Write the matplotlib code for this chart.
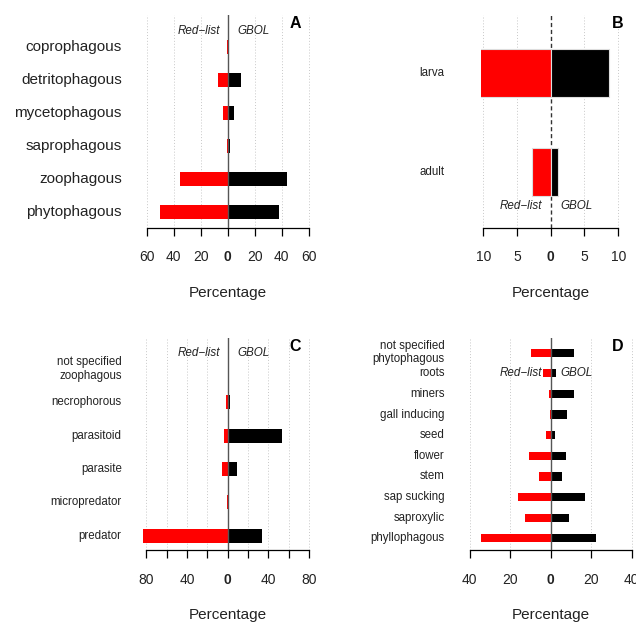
import matplotlib
matplotlib.use("Agg")
import matplotlib.pyplot as plt
import matplotlib.transforms as mtransforms

plt.rcParams['font.family'] = ['Liberation Sans', 'DejaVu Sans']

# ---------------- data ----------------
# Panel A: feeding guild (bottom -> top)
a_cats = ["phytophagous", "zoophagous", "saprophagous", "mycetophagous",
          "detritophagous", "coprophagous"]
a_red = [50, 35.3, 0.3, 3.7, 7.0, 0.3]
a_gbol = [38.2, 43.7, 1.5, 4.4, 10.0, 0.0]
a_ticks = [-60, -40, -20, 0, 20, 40, 60]
a_ticklabels = ["60", "40", "20", "0", "20", "40", "60"]

# Panel B: life stage
b_cats = ["adult", "larva"]
b_red = [2.7, 10.8]
b_gbol = [1.1, 8.6]
b_ticks = [-10, -5, 0, 5, 10]
b_ticklabels = ["10", "5", "0", "5", "10"]

# Panel C: zoophagous
c_cats = ["predator", "micropredator", "parasite", "parasitoid",
          "necrophorous", "not specified\nzoophagous"]
c_red = [83.6, 0.8, 5.6, 3.3, 1.7, 0.0]
c_gbol = [34.1, 0.0, 8.9, 53.0, 2.3, 0.0]
c_ticks = [-80, -60, -40, -20, 0, 20, 40, 60, 80]
c_ticklabels = ["80", "", "40", "", "0", "", "40", "", "80"]

# Panel D: phytophagous
d_cats = ["phyllophagous", "saproxylic", "sap sucking", "stem", "flower",
          "seed", "gall inducing", "miners", "roots",
          "not specified\nphytophagous"]
d_red = [34.6, 12.8, 16.1, 5.6, 10.9, 2.1, 0.4, 0.8, 4.0, 9.5]
d_gbol = [22.2, 9.2, 16.8, 5.6, 7.6, 2.0, 7.9, 11.7, 2.5, 11.4]
d_ticks = [-40, -20, 0, 20, 40]
d_ticklabels = ["40", "20", "0", "20", "40"]

# ---------------- layout ----------------
W, H = 636, 623
fig = plt.figure(figsize=(W / 100, H / 100), dpi=100)


def px_axes(zero, ppu, xmax, top, bottom):
    left = zero - xmax * ppu
    width = 2 * xmax * ppu
    ax = fig.add_axes([left / W, 1 - bottom / H, width / W, (bottom - top) / H])
    ax.set_xlim(-xmax, xmax)
    return ax


def panel(ax, cats, red, gbol, ticks, ticklabels, ylim, barh, lab_x, lab_fs,
          letter, letter_xy, rl_y, rl_right, gb_left, zero_style, bar_edge,
          axis_y, zero_top):
    ax.set_ylim(*ylim)
    ypos = list(range(len(cats)))
    # grid
    for t in ticks:
        if t != 0:
            ax.axvline(t, color="#c8c8c8", lw=0.7, ls=(0, (1, 2)), zorder=0)
    if zero_style == "dashed":
        ax.axvline(0, color="#333333", lw=1.0, ls=(0, (3, 2)), zorder=1)
        zl_z = 1
    ec = "#dddddd" if bar_edge else "none"
    lw = 0.8 if bar_edge else 0
    ax.barh(ypos, [-v for v in red], height=barh, color="#ff0000",
            edgecolor=ec, linewidth=lw, zorder=2)
    ax.barh(ypos, gbol, height=barh, color="black",
            edgecolor=ec, linewidth=lw, zorder=2)
    if zero_style == "solid":
        ax.axvline(0, color="#555555", lw=1.0, zorder=3)
    # spines / ticks
    for s in ["top", "right", "left"]:
        ax.spines[s].set_visible(False)
    ax.spines["bottom"].set_bounds(ticks[0], ticks[-1])
    ax.spines["bottom"].set_linewidth(0.9)
    ax.set_yticks([])
    ax.set_xticks(ticks)
    ax.set_xticklabels(ticklabels)
    ax.tick_params(axis="x", length=5.8, width=0.9, pad=10.5, labelsize=10,
                   colors="black", labelcolor="#222222")
    for lab in ax.get_xticklabels():
        if lab.get_text() == "0":
            lab.set_fontweight("bold")
    ax.patch.set_alpha(0)
    # category labels
    tr = mtransforms.blended_transform_factory(fig.transFigure, ax.transData)
    for y, c in zip(ypos, cats):
        ax.text(lab_x / W, y, c, transform=tr, ha="right", va="center",
                fontsize=lab_fs, color="#222222", linespacing=1.15)
    # Red-list / GBOL
    ax.text(rl_right / W, 1 - rl_y / H, "Red\u2212list", transform=fig.transFigure,
            ha="right", va="center", fontsize=8.4, style="italic", color="#222222")
    ax.text(gb_left / W, 1 - rl_y / H, "GBOL", transform=fig.transFigure,
            ha="left", va="center", fontsize=8.4, style="italic", color="#222222")
    # panel letter
    ax.text(letter_xy[0] / W, 1 - letter_xy[1] / H, letter, transform=fig.transFigure,
            ha="center", va="center", fontsize=11.5, fontweight="bold")
    # x label
    trx = mtransforms.blended_transform_factory(ax.transData, fig.transFigure)
    ax.text(0, 1 - (axis_y + 65.5) / H, "Percentage", transform=trx,
            ha="center", va="center", fontsize=11, color="#222222")


axA = px_axes(227.7, 1.35, 64.8, 15, 227.7)
panel(axA, a_cats, a_red, a_gbol, a_ticks, a_ticklabels, (-0.475, 5.97), 0.42,
      121.7, 11, "A", (295.5, 24), 31, 220, 237.3, "solid", False, 227.7, 15)

axB = px_axes(550.7, 6.75, 10.4, 15, 227.7)
panel(axB, b_cats, b_red, b_gbol, b_ticks, b_ticklabels, (-0.563, 1.586), 0.485,
      444.7, 8.3, "B", (618, 24), 206, 542, 560.3, "dashed", True, 227.7, 15)

axC = px_axes(227.7, 1.016, 86, 338.3, 550)
panel(axC, c_cats, c_red, c_gbol, c_ticks, c_ticklabels, (-0.43, 5.92), 0.42,
      121.7, 8.3, "C", (295.5, 346.7), 353.3, 220, 237.3, "solid", False, 550, 338.3)

axD = px_axes(550.7, 2.025, 41.6, 338.3, 550)
panel(axD, d_cats, d_red, d_gbol, d_ticks, d_ticklabels, (-0.567, 9.70), 0.40,
      444.7, 8.3, "D", (618, 346.7), 373.3, 542, 560.3, "solid", False, 550, 338.3)

fig.savefig("out.png", dpi=100)
